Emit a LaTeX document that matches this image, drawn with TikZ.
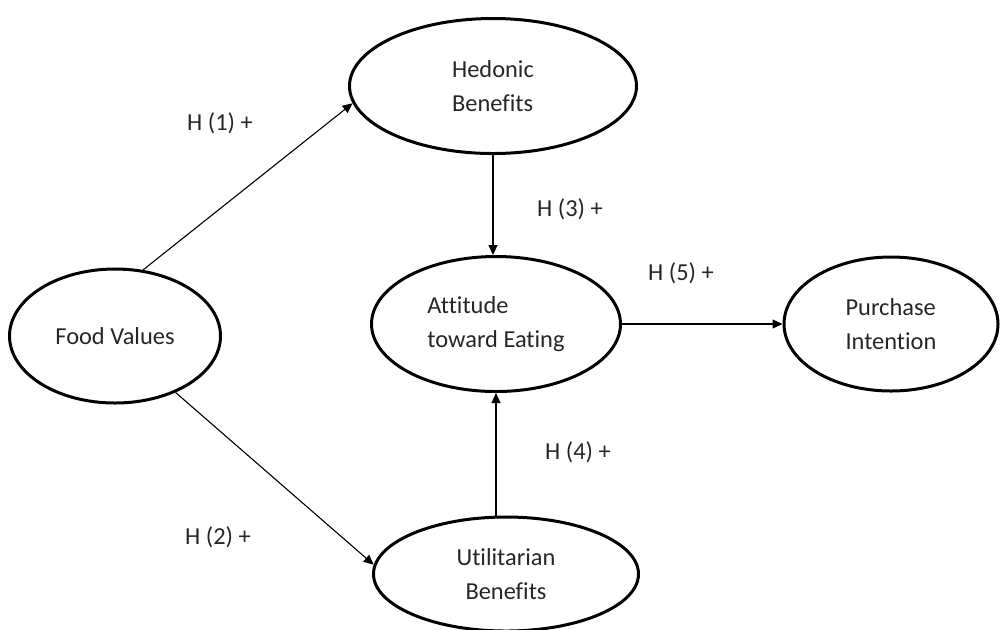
\documentclass[tikz,border=0pt]{standalone}
\usepackage{fontspec}
\setmainfont{Carlito}[Ligatures={NoCommon}]
\usetikzlibrary{shapes.geometric,arrows.meta}
\begin{document}
\begin{tikzpicture}[x=0.5pt,y=-0.5pt,
  construct/.style={draw, ellipse, line width=1.5pt, inner sep=0pt, font=\fontsize{12.2}{17}\selectfont, text=black!85},
  hyplabel/.style={font=\fontsize{12.2}{15}\selectfont, text=black!85, inner sep=0pt},
  link/.style={-{Triangle[length=5pt,width=4.5pt]}, line width=0.55pt}]
\useasboundingbox (0,0) rectangle (1001,629);
\node[construct, minimum width=105.5pt, minimum height=67pt] (food) at (115,336) {Food Values};
\node[construct, minimum width=143.5pt, minimum height=67.5pt, align=left] (hed) at (493,86) {Hedonic\\Benefits};
\node[construct, minimum width=124.5pt, minimum height=67.5pt, align=left] (att) at (496,324) {Attitude\\toward Eating};
\node[construct, minimum width=107pt, minimum height=67pt, align=left] (pur) at (891,324) {Purchase\\Intention};
\node[construct, minimum width=132.5pt, minimum height=57pt, align=center] (util) at (506,574) {Utilitarian\\Benefits};

\draw[link] (food.67) -- (hed.187);
\draw[link] (food.-43) -- (util.176);
\draw[link] (hed.south) -- (att.north -| hed.south);
\draw[link] (util.north -| att.south) -- (att.south);
\draw[link] (att.east) -- (pur.west);

\node[hyplabel] (h1) at (220,123) {H (1) +};
\node[hyplabel] (h2) at (218,537) {H (2) +};
\node[hyplabel] (h3) at (570,209) {H (3) +};
\node[hyplabel] (h4) at (578,452) {H (4) +};
\node[hyplabel] (h5) at (681,273) {H (5) +};
\end{tikzpicture}
\end{document}
